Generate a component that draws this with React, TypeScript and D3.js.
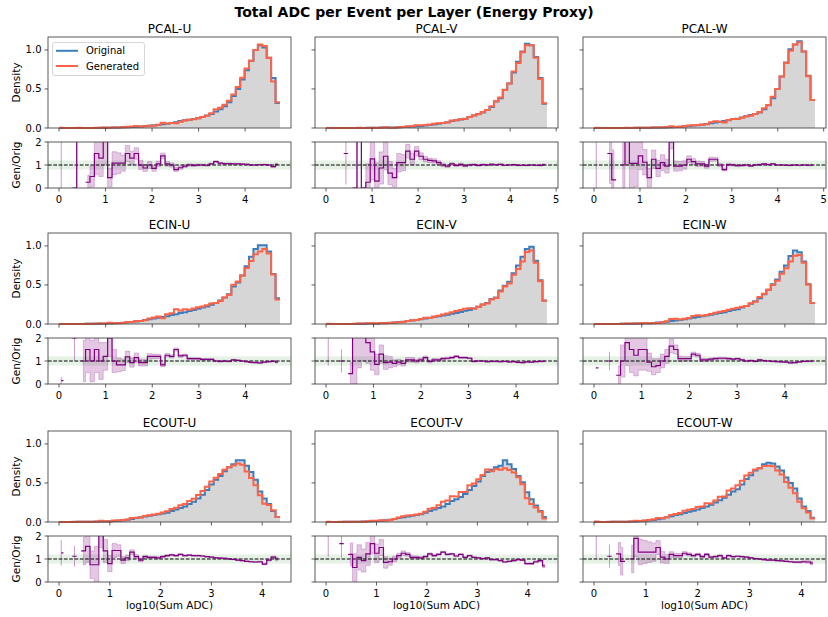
import React from 'react';
import * as d3 from 'd3';

// layer names and upper edge of the log10(sum ADC) range per layer
const layers = ['PCAL-U', 'PCAL-V', 'PCAL-W', 'ECIN-U', 'ECIN-V', 'ECIN-W', 'ECOUT-U', 'ECOUT-V', 'ECOUT-W'];
const xMaxes = [4.75, 4.8, 4.81, 4.74, 4.65, 4.63, 4.35, 4.38, 4.26];

const nBins = 50;

// density of the original sample per bin, ratio gen/orig (null = empty) and its error
const pcalU_orig = [0.0005,0.0005,0.0005,0.0008,0.0008,0.001,0.001,0.0012,0.0015,0.002,
  0.003,0.004,0.005,0.007,0.009,0.011,0.014,0.017,0.02,0.025,
  0.03,0.035,0.04,0.048,0.055,0.065,0.075,0.09,0.1,0.105,
  0.115,0.125,0.14,0.16,0.18,0.21,0.24,0.28,0.33,0.41,
  0.5,0.62,0.74,0.86,1.0,1.06,1.03,0.9,0.64,0.32];
const pcalU_ratio = [5,null,null,0,3,null,0.25,0.5,1.5,1.3,
  2.5,0.45,1.08,1.08,1.08,1.5,1.3,1.5,1.0,0.87,
  1.0,0.85,1.05,1.4,1.05,1.0,0.8,0.88,0.95,1.0,
  0.98,1.0,1.0,0.99,1.05,1.15,1.08,1.06,1.06,1.05,
  1.05,1.04,1.03,1.0,1.0,1.01,1.02,1.0,0.93,1.03];
const pcalU_err = [5,0,0,0,0,0,0.3,0.45,0.9,0.8,
  1.5,0.4,0.5,0.45,0.35,0.35,0.3,0.25,0.2,0.15,
  0.15,0.12,0.12,0.12,0.1,0.09,0.08,0.07,0.06,0.05,
  0.05,0.045,0.04,0.04,0.035,0.035,0.03,0.03,0.025,0.025,
  0.02,0.02,0.02,0.02,0.02,0.02,0.02,0.02,0.025,0.035];

const pcalV_orig = [0.0003,0.0003,0.0004,0.0005,0.0006,0.0008,0.001,0.0012,0.0015,0.002,
  0.003,0.004,0.005,0.006,0.007,0.008,0.01,0.012,0.015,0.018,
  0.022,0.026,0.032,0.038,0.045,0.055,0.065,0.075,0.09,0.1,
  0.11,0.12,0.14,0.16,0.18,0.2,0.23,0.27,0.34,0.38,
  0.49,0.57,0.71,0.85,0.98,1.08,1.06,0.91,0.64,0.31];
const pcalV_ratio = [null,null,null,null,1.5,null,0,3,0,0.25,
  1.27,0.3,0.87,1.38,0.65,0.45,1.1,1.1,1.6,1.25,
  1.6,1.38,1.25,1.2,1.18,1.1,1.0,0.95,1.05,0.98,
  1.03,0.96,1.0,1.02,0.98,1.02,1.0,1.03,1.01,1.03,
  0.99,1.0,1.02,0.98,0.99,0.98,1.0,0.99,0.98,1.02];
const pcalV_err = [0,0,0,0,1.35,0,0,0,0,0.8,
  0.9,0.8,0.7,0.6,0.5,0.4,0.4,0.35,0.3,0.25,
  0.2,0.15,0.12,0.1,0.09,0.08,0.07,0.06,0.05,0.05,
  0.045,0.04,0.04,0.035,0.035,0.03,0.03,0.03,0.025,0.025,
  0.02,0.02,0.02,0.02,0.02,0.02,0.02,0.02,0.025,0.035];

const pcalW_orig = [0.0005,0.0004,0.0004,0.0005,0.0006,0.0008,0.001,0.0012,0.0015,0.002,
  0.0025,0.003,0.004,0.005,0.007,0.008,0.009,0.011,0.014,0.017,
  0.021,0.026,0.031,0.036,0.042,0.05,0.06,0.07,0.08,0.09,
  0.1,0.115,0.12,0.135,0.15,0.165,0.18,0.2,0.24,0.29,
  0.38,0.5,0.66,0.84,1.01,1.07,1.11,0.98,0.67,0.36];
const pcalW_ratio = [5,null,null,1.5,0.35,null,1.0,2.5,1.07,1.07,
  1.4,1.12,0.45,1.25,0.85,1.1,0.95,2.0,0.95,0.95,
  1.0,1.25,1.15,1.05,1.05,0.95,1.25,1.25,1.0,0.8,
  1.02,1.0,0.97,0.98,1.0,0.96,1.0,1.02,1.05,1.02,
  1.05,1.0,1.0,0.99,0.98,1.0,0.99,1.0,0.99,1.0];
const pcalW_err = [5,0,0,1.3,1.3,0,1.2,1.5,1.1,1.0,
  0.6,0.55,0.4,0.4,0.35,0.35,0.3,0.3,0.22,0.2,
  0.18,0.15,0.13,0.12,0.1,0.09,0.09,0.08,0.07,0.06,
  0.05,0.045,0.04,0.04,0.035,0.035,0.03,0.03,0.025,0.025,
  0.02,0.02,0.02,0.02,0.02,0.02,0.02,0.02,0.025,0.035];

const ecinU_orig = [0.0005,0.0005,0.0006,0.0008,0.001,0.0015,0.002,0.003,0.004,0.005,
  0.006,0.008,0.01,0.013,0.017,0.022,0.027,0.033,0.04,0.05,
  0.06,0.07,0.08,0.09,0.1,0.115,0.125,0.14,0.15,0.165,
  0.18,0.195,0.21,0.225,0.245,0.27,0.3,0.34,0.38,0.48,
  0.53,0.62,0.74,0.86,0.96,1.01,1.01,0.93,0.64,0.33];
const ecinU_ratio = [0.15,null,null,2.0,null,1.0,1.5,1.0,1.5,1.0,
  1.2,2.0,1.0,0.83,0.83,1.18,0.93,1.15,0.93,0.93,
  1.2,1.2,1.2,0.83,1.25,1.2,1.5,1.22,1.25,1.1,
  1.1,1.1,1.07,1.07,1.07,1.0,0.98,1.0,0.98,1.05,
  1.03,1.0,0.97,0.94,0.93,0.92,0.95,0.97,0.99,0.95];
const ecinU_err = [0.15,0,0,1.0,0,0.9,1.0,0.9,1.0,0.8,
  0.6,0.8,0.5,0.3,0.25,0.25,0.2,0.2,0.15,0.15,
  0.12,0.1,0.09,0.08,0.08,0.07,0.07,0.06,0.05,0.05,
  0.045,0.04,0.04,0.035,0.035,0.03,0.03,0.03,0.025,0.025,
  0.02,0.02,0.02,0.02,0.02,0.02,0.02,0.02,0.025,0.035];

const ecinV_orig = [0.0005,0.0005,0.0006,0.0008,0.001,0.0012,0.0015,0.002,0.003,0.005,
  0.006,0.008,0.01,0.012,0.015,0.02,0.025,0.03,0.038,0.045,
  0.052,0.06,0.07,0.08,0.09,0.1,0.11,0.12,0.13,0.14,
  0.155,0.17,0.18,0.2,0.22,0.25,0.27,0.32,0.34,0.43,
  0.49,0.54,0.65,0.75,0.86,0.96,0.99,0.81,0.56,0.3];
const ecinV_ratio = [5,null,null,1.0,null,0.45,2.5,2.5,2.5,1.8,
  1.4,0.85,1.3,0.93,0.95,0.9,0.95,0.9,1.05,1.05,
  1.0,1.05,1.15,0.98,1.05,1.05,1.1,1.12,1.15,1.2,
  1.15,1.15,1.12,0.98,1.0,1.0,0.97,0.98,0.98,0.97,
  0.98,0.96,0.97,0.94,0.93,0.96,0.95,0.97,0.98,0.99];
const ecinV_err = [4.2,0,0,0.5,0,0.5,2.5,1.8,1.5,0.9,
  0.8,0.45,0.4,0.3,0.25,0.15,0.12,0.12,0.1,0.1,
  0.08,0.08,0.07,0.06,0.06,0.05,0.05,0.045,0.04,0.04,
  0.035,0.035,0.03,0.03,0.03,0.025,0.025,0.025,0.025,0.02,
  0.02,0.02,0.02,0.02,0.02,0.02,0.02,0.02,0.025,0.035];

const ecinW_orig = [0.0005,0.0005,0.0006,0.0008,0.001,0.0015,0.002,0.003,0.004,0.005,
  0.007,0.009,0.011,0.014,0.018,0.024,0.03,0.038,0.045,0.052,
  0.06,0.07,0.08,0.09,0.1,0.11,0.12,0.13,0.14,0.15,
  0.165,0.18,0.19,0.21,0.23,0.26,0.29,0.33,0.38,0.44,
  0.51,0.57,0.67,0.75,0.87,0.94,0.92,0.8,0.51,0.27];
const ecinW_ratio = [0.7,null,null,1.0,null,0.38,1.0,1.8,1.5,1.25,
  1.5,1.5,0.95,0.75,0.8,1.0,1.2,1.65,1.5,1.1,
  1.1,1.1,1.3,1.25,1.05,1.05,1.08,1.1,1.12,1.12,
  1.1,1.08,1.1,1.05,1.0,1.02,0.98,1.05,1.02,1.0,
  0.98,0.97,0.96,0.95,0.92,0.93,0.96,0.98,0.99,1.0];
const ecinW_err = [0.05,0,0,0.4,0,0.4,0.7,1.0,1.0,0.9,
  0.9,0.9,0.4,0.35,0.3,0.3,0.3,0.3,0.2,0.12,
  0.1,0.1,0.09,0.08,0.07,0.06,0.05,0.05,0.045,0.04,
  0.04,0.035,0.035,0.03,0.03,0.03,0.025,0.025,0.025,0.02,
  0.02,0.02,0.02,0.02,0.02,0.02,0.02,0.02,0.025,0.035];

const ecoutU_orig = [0.001,0.0008,0.001,0.0015,0.002,0.0025,0.003,0.004,0.005,0.006,
  0.008,0.01,0.013,0.017,0.023,0.03,0.04,0.05,0.06,0.07,
  0.08,0.09,0.1,0.11,0.12,0.14,0.16,0.18,0.2,0.23,
  0.26,0.3,0.35,0.41,0.48,0.54,0.59,0.65,0.7,0.74,
  0.79,0.79,0.72,0.64,0.54,0.39,0.3,0.23,0.14,0.065];
const ecoutU_ratio = [1.27,null,null,1.12,null,1.35,1.55,0.75,0.75,2.5,
  1.35,0.8,1.37,1.37,0.95,1.05,1.3,1.1,0.95,1.1,
  1.07,1.07,1.05,1.1,1.15,1.18,1.15,1.2,1.15,1.17,
  1.15,1.15,1.13,1.1,1.08,1.05,1.04,1.03,1.0,0.98,
  0.95,0.93,0.9,0.88,0.87,0.88,0.78,0.95,1.08,1.0];
const ecoutU_err = [0.55,0,0,0.45,0,0.6,0.7,0.6,0.8,1.0,
  0.5,0.35,0.3,0.25,0.15,0.12,0.1,0.08,0.07,0.06,
  0.05,0.05,0.045,0.04,0.04,0.035,0.035,0.03,0.03,0.03,
  0.025,0.025,0.025,0.02,0.02,0.02,0.02,0.02,0.02,0.02,
  0.02,0.02,0.02,0.02,0.025,0.03,0.035,0.04,0.05,0.08];

const ecoutV_orig = [0.0008,0.0008,0.001,0.0015,0.002,0.0025,0.003,0.004,0.005,0.007,
  0.009,0.012,0.016,0.022,0.03,0.04,0.05,0.06,0.07,0.08,
  0.09,0.1,0.12,0.14,0.16,0.18,0.2,0.23,0.27,0.29,
  0.32,0.36,0.41,0.46,0.52,0.59,0.64,0.67,0.7,0.72,
  0.79,0.74,0.68,0.59,0.51,0.38,0.29,0.21,0.14,0.065];
const ecoutV_ratio = [5,null,null,1.67,null,1.2,0.63,1.07,0.93,1.22,
  1.67,1.25,1.5,0.85,0.88,1.0,1.15,1.25,1.2,1.07,
  1.07,1.05,1.1,1.22,1.15,1.2,1.3,1.2,1.22,1.13,
  1.2,1.07,1.15,1.07,1.05,1.02,1.05,0.97,0.97,0.93,
  0.87,0.9,0.93,0.97,0.95,0.8,0.8,0.88,0.93,0.7];
const ecoutV_err = [3.9,0,0,0.6,0,0.5,0.6,0.55,0.5,0.5,
  0.45,0.4,0.35,0.25,0.15,0.12,0.1,0.1,0.08,0.07,
  0.06,0.05,0.05,0.045,0.04,0.04,0.035,0.035,0.03,0.03,
  0.025,0.025,0.025,0.02,0.02,0.02,0.02,0.02,0.02,0.02,
  0.02,0.02,0.02,0.02,0.025,0.03,0.035,0.04,0.05,0.08];

const ecoutW_orig = [0.001,0.001,0.0012,0.0015,0.002,0.0025,0.003,0.004,0.006,0.008,
  0.011,0.015,0.02,0.027,0.035,0.045,0.06,0.075,0.09,0.1,
  0.115,0.13,0.145,0.16,0.18,0.2,0.22,0.25,0.28,0.31,
  0.35,0.39,0.42,0.48,0.55,0.6,0.66,0.69,0.74,0.76,
  0.75,0.71,0.66,0.57,0.5,0.43,0.3,0.2,0.14,0.055];
const ecoutW_ratio = [5,null,null,1.12,null,1.22,0.9,null,1.0,1.9,
  1.3,1.3,1.3,1.3,1.5,1.08,1.0,1.2,1.15,1.15,
  1.25,1.2,1.15,1.2,1.1,1.2,1.08,1.1,1.15,1.05,
  1.15,1.1,1.12,1.1,1.08,1.05,1.02,1.0,0.97,0.95,
  0.95,0.93,0.92,0.9,0.88,0.86,0.86,0.88,0.87,0.82];
const ecoutW_err = [4,0,0,0.5,0,0.5,0.6,0,0.6,0.8,
  0.55,0.5,0.45,0.4,0.3,0.25,0.2,0.12,0.1,0.09,
  0.08,0.07,0.06,0.05,0.05,0.045,0.04,0.04,0.035,0.03,
  0.03,0.025,0.025,0.025,0.02,0.02,0.02,0.02,0.02,0.02,
  0.02,0.02,0.02,0.02,0.025,0.03,0.035,0.04,0.05,0.08];

const origs = [pcalU_orig, pcalV_orig, pcalW_orig, ecinU_orig, ecinV_orig, ecinW_orig, ecoutU_orig, ecoutV_orig, ecoutW_orig];
const ratios = [pcalU_ratio, pcalV_ratio, pcalW_ratio, ecinU_ratio, ecinV_ratio, ecinW_ratio, ecoutU_ratio, ecoutV_ratio, ecoutW_ratio];
const errs = [pcalU_err, pcalV_err, pcalW_err, ecinU_err, ecinV_err, ecinW_err, ecoutU_err, ecoutV_err, ecoutW_err];

// generated density = original * ratio
const gens = origs.map((o, k) => o.map((v, i) => (ratios[k][i] == null ? v : v * (ratios[k][i] as number))));

const blue = '#3a7ebf';
const red = '#ff6347';
const purple = '#800080';
const axisColor = '#333';

const colX = [48, 315, 583];
const panelW = 243;
const rowY = [37, 233, 431];
const mainH = 91;
const gap = 14;
const ratioH = 46;

const yTop = 1.05 * (d3.max([...origs, ...gens].flat()) as number);

type Pt = [number, number | null];

function Panel({ k }: { k: number }) {
  const col = k % 3;
  const row = Math.floor(k / 3);
  const x0 = colX[col];
  const top = rowY[row];
  const xmax = xMaxes[k];
  const orig = origs[k];
  const gen = gens[k];
  const ratio = ratios[k];
  const err = errs[k];

  const x = d3.scaleLinear().domain([-0.05 * xmax, 1.05 * xmax]).range([x0, x0 + panelW]);
  const yM = d3.scaleLinear().domain([0, yTop]).range([top + mainH, top]);
  const rTop = top + mainH + gap;
  const yR = d3.scaleLinear().domain([0, 2]).range([rTop + ratioH, rTop]);

  const edges = d3.range(nBins + 1).map(i => (xmax * i) / nBins);
  const centers = d3.range(nBins).map(i => (xmax * (i + 0.5)) / nBins);

  const steps = (vals: number[]) => {
    const pts: [number, number][] = [];
    vals.forEach((v, i) => { pts.push([edges[i], v]); pts.push([edges[i + 1], v]); });
    return pts;
  };
  const line = d3.line<[number, number]>().x(d => x(d[0])).y(d => yM(d[1]));
  const area = d3.area<[number, number]>().x(d => x(d[0])).y0(yM(0)).y1(d => yM(d[1]));

  // ratio drawn as steps around bin centres
  const midPts: Pt[] = [];
  ratio.forEach((r, i) => {
    const l = i === 0 ? centers[0] : (centers[i - 1] + centers[i]) / 2;
    const rr = i === nBins - 1 ? centers[i] : (centers[i] + centers[i + 1]) / 2;
    midPts.push([l, r], [rr, r]);
  });
  const rLine = d3.line<Pt>().defined(d => d[1] != null).x(d => x(d[0])).y(d => yR(d[1] as number));

  // error band, one polygon per run of filled bins
  const runs: number[][] = [];
  let cur: number[] = [];
  ratio.forEach((r, i) => {
    if (r == null) { if (cur.length) runs.push(cur); cur = []; } else cur.push(i);
  });
  if (cur.length) runs.push(cur);
  const bandArea = d3.area<{ x: number; lo: number; hi: number }>()
    .x(d => x(d.x)).y0(d => yR(d.lo)).y1(d => yR(d.hi));
  const bands = runs.map((run, j) => {
    const pts: { x: number; lo: number; hi: number }[] = [];
    run.forEach((i, n) => {
      const r = ratio[i] as number;
      const e = err[i];
      const l = n === 0 ? centers[i] : (centers[i - 1] + centers[i]) / 2;
      const rr = n === run.length - 1 ? centers[i] : (centers[i] + centers[i + 1]) / 2;
      pts.push({ x: l, lo: r - e, hi: r + e }, { x: rr, lo: r - e, hi: r + e });
    });
    if (run.length === 1 && err[run[0]] === 0) return null;
    return (
      <path key={j} d={bandArea(pts) || ''} fill={purple} fillOpacity={0.22}
        stroke={purple} strokeOpacity={0.22} strokeWidth={1} />
    );
  });

  const xTicks = d3.range(0, Math.floor(1.05 * xmax) + 1);
  const clipId = `clip-r-${k}`;

  return (
    <g>
      <defs>
        <clipPath id={clipId}>
          <rect x={x0} y={rTop} width={panelW} height={ratioH} />
        </clipPath>
      </defs>
      <text x={x0 + panelW / 2} y={top - 4.5} textAnchor="middle" fontSize={12}>{layers[k]}</text>

      {/* main histogram */}
      <path d={area(steps(orig)) || ''} fill="#d6d6d6" />
      <path d={line(steps(orig)) || ''} fill="none" stroke={blue} strokeWidth={2} />
      <path d={line(steps(gen)) || ''} fill="none" stroke={red} strokeWidth={2} />
      <rect x={x0} y={top} width={panelW} height={mainH} fill="none" stroke={axisColor} strokeWidth={0.8} />
      {xTicks.map(t => (
        <line key={t} x1={x(t)} x2={x(t)} y1={top + mainH} y2={top + mainH + 3.5} stroke={axisColor} strokeWidth={0.8} />
      ))}
      {[0, 0.5, 1].map(t => (
        <g key={t}>
          <line x1={x0 - 3.5} x2={x0} y1={yM(t)} y2={yM(t)} stroke={axisColor} strokeWidth={0.8} />
          {col === 0 && (
            <text x={x0 - 6.5} y={yM(t)} dy="0.35em" textAnchor="end" fontSize={10}>{t.toFixed(1)}</text>
          )}
        </g>
      ))}
      {col === 0 && (
        <text transform={`translate(16,${top + mainH / 2}) rotate(-90)`} dy="0.35em" textAnchor="middle" fontSize={10.5}>Density</text>
      )}

      {/* ratio panel */}
      <g clipPath={`url(#${clipId})`}>
        <rect x={x0} y={yR(1.2)} width={panelW} height={yR(0.8) - yR(1.2)} fill="green" fillOpacity={0.1} />
        {bands}
        <line x1={x0} x2={x0 + panelW} y1={yR(1)} y2={yR(1)} stroke="#000" strokeWidth={1} strokeDasharray="3.7,1.6" />
        <path d={rLine(midPts) || ''} fill="none" stroke={purple} strokeWidth={1.2} />
      </g>
      <rect x={x0} y={rTop} width={panelW} height={ratioH} fill="none" stroke={axisColor} strokeWidth={0.8} />
      {xTicks.map(t => (
        <g key={t}>
          <line x1={x(t)} x2={x(t)} y1={rTop + ratioH} y2={rTop + ratioH + 3.5} stroke={axisColor} strokeWidth={0.8} />
          <text x={x(t)} y={rTop + ratioH + 15} textAnchor="middle" fontSize={10}>{t}</text>
        </g>
      ))}
      {[0, 1, 2].map(t => (
        <g key={t}>
          <line x1={x0 - 3.5} x2={x0} y1={yR(t)} y2={yR(t)} stroke={axisColor} strokeWidth={0.8} />
          {col === 0 && (
            <text x={x0 - 6.5} y={yR(t)} dy="0.35em" textAnchor="end" fontSize={10}>{t}</text>
          )}
        </g>
      ))}
      {col === 0 && (
        <text transform={`translate(16,${rTop + ratioH / 2}) rotate(-90)`} dy="0.35em" textAnchor="middle" fontSize={10.5}>Gen/Orig</text>
      )}
      {row === 2 && (
        <text x={x0 + panelW / 2} y={609} textAnchor="middle" fontSize={10.5}>log10(Sum ADC)</text>
      )}

      {k === 0 && (
        <g>
          <rect x={52.5} y={42.5} width={92} height={33} rx={2.5} fill="#fff" fillOpacity={0.8} stroke="#ccc" strokeWidth={0.8} />
          <line x1={56} x2={78} y1={50.8} y2={50.8} stroke={blue} strokeWidth={2} />
          <text x={86} y={50.8} dy="0.35em" fontSize={10}>Original</text>
          <line x1={56} x2={78} y1={66} y2={66} stroke={red} strokeWidth={2} />
          <text x={86} y={66} dy="0.35em" fontSize={10}>Generated</text>
        </g>
      )}
    </g>
  );
}

export default function App() {
  return (
    <svg width={828} height={617} style={{ position: 'absolute', left: 0, top: 0, background: '#fff' }}
      fontFamily="'DejaVu Sans', sans-serif" fill="#000">
      <text x={414} y={17} textAnchor="middle" fontSize={14} fontWeight="bold">
        Total ADC per Event per Layer (Energy Proxy)
      </text>
      {layers.map((_, k) => <Panel key={k} k={k} />)}
    </svg>
  );
}
